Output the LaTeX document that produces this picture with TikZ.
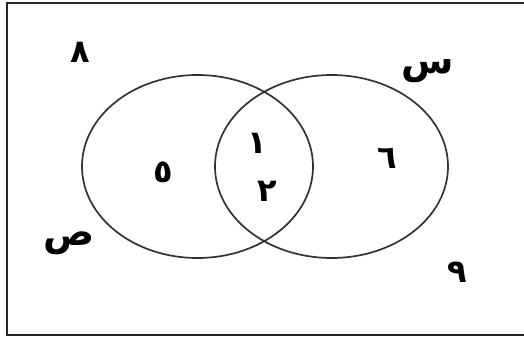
\documentclass[tikz,border=0pt]{standalone}
\usepackage{fontspec}
\TeXXeTstate=1
\newfontfamily\arabicfont[Script=Arabic]{DejaVu Sans}
\begin{document}
\begin{tikzpicture}[x=1pt,y=-1pt,
  setline/.style={line width=1.7pt, draw=black!80},
  lbl/.style={inner sep=0pt, font=\arabicfont\bfseries\fontsize{32}{32}\selectfont},
  letter/.style={inner sep=0pt, font=\arabicfont\bfseries\fontsize{38}{38}\selectfont}]
\useasboundingbox (0,0) rectangle (524,340);
\clip (0,0) rectangle (524,340);
\draw[line width=2.2pt, draw=black!85] (7,3) rectangle (600,335);
\draw[setline] (197.5,166.5) ellipse [x radius=115.5, y radius=91.5];
\draw[setline] (331.5,166.5) ellipse [x radius=116.5, y radius=91.5];
\node[lbl] (n8) at (80,52) {\beginR ٨\endR};
\node[letter] (s) at (428,71) {\beginR س\endR};
\node[lbl] (n5) at (163,172) {\beginR ٥\endR};
\node[lbl] (n1) at (257,143) {\beginR ١\endR};
\node[lbl] (n2) at (267,191) {\beginR ٢\endR};
\node[lbl] (n6) at (387,158) {\beginR ٦\endR};
\node[letter] (sad) at (69,243) {\beginR ص\endR};
\node[lbl] (n9) at (457,272) {\beginR ٩\endR};
\end{tikzpicture}
\end{document}
